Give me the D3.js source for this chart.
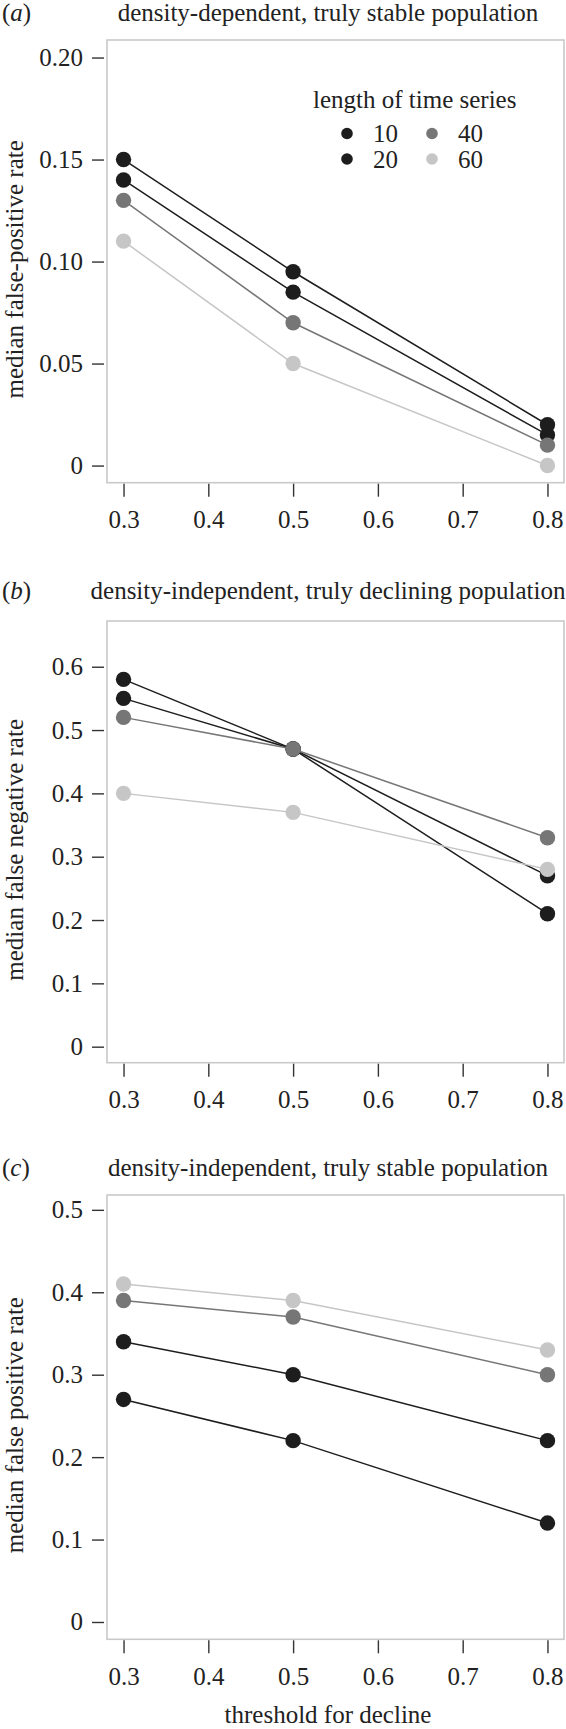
<!DOCTYPE html>
<html>
<head>
<meta charset="utf-8">
<script src="https://cdn.jsdelivr.net/npm/d3@7"></script>
<style>
  html, body { margin: 0; padding: 0; background: #fff; }
  svg { display: block; }
  text { font-family: "Liberation Serif", "Times New Roman", serif; fill: #222; }
</style>
</head>
<body>
<svg id="chart" width="566" height="1729"></svg>
<script>
// ---------- data ----------
const thresholds = [0.3, 0.5, 0.8];
const xTicks = [0.3, 0.4, 0.5, 0.6, 0.7, 0.8];
const seriesNames = ["10", "20", "40", "60"];
const seriesColors = ["#1d1d1d", "#1d1d1d", "#767676", "#c6c6c6"];

// panel (a): density-dependent, truly stable population
const a_len10 = [0.15, 0.095, 0.02];
const a_len20 = [0.14, 0.085, 0.015];
const a_len40 = [0.13, 0.07, 0.01];
const a_len60 = [0.11, 0.05, 0.0];
const a_yTicks = [0, 0.05, 0.10, 0.15, 0.20];

// panel (b): density-independent, truly declining population
const b_len10 = [0.58, 0.47, 0.21];
const b_len20 = [0.55, 0.47, 0.27];
const b_len40 = [0.52, 0.47, 0.33];
const b_len60 = [0.40, 0.37, 0.28];
const b_yTicks = [0, 0.1, 0.2, 0.3, 0.4, 0.5, 0.6];

// panel (c): density-independent, truly stable population
const c_len10 = [0.27, 0.22, 0.12];
const c_len20 = [0.34, 0.30, 0.22];
const c_len40 = [0.39, 0.37, 0.30];
const c_len60 = [0.41, 0.39, 0.33];
const c_yTicks = [0, 0.1, 0.2, 0.3, 0.4, 0.5];

const panelLetters = ["a", "b", "c"];
const panelTitles = [
  "density-dependent, truly stable population",
  "density-independent, truly declining population",
  "density-independent, truly stable population"
];
const yTitles = ["median false-positive rate", "median false negative rate", "median false positive rate"];
const xTitle = "threshold for decline";
const legendTitle = "length of time series";

// ---------- layout ----------
const FS = 25;
const left = 107, right = 564;
const layouts = [
  { top: 40,  bottom: 482.7,  ydom: [-0.0084, 0.2086], titleY: 21,   series: [a_len10, a_len20, a_len40, a_len60], ticks: a_yTicks, fmt: d3.format(".2f") },
  { top: 621, bottom: 1062.7, ydom: [-0.0253, 0.6722], titleY: 599,  series: [b_len10, b_len20, b_len40, b_len60], ticks: b_yTicks, fmt: d3.format(".1f") },
  { top: 1195, bottom: 1639.3, ydom: [-0.0210, 0.5180], titleY: 1176, series: [c_len10, c_len20, c_len40, c_len60], ticks: c_yTicks, fmt: d3.format(".1f") }
];

const svg = d3.select("#chart");
const x = d3.scaleLinear().domain([0.2805, 0.8195]).range([left, right]);

layouts.forEach((L, i) => {
  const g = svg.append("g");
  const y = d3.scaleLinear().domain(L.ydom).range([L.bottom, L.top]);

  // panel letter
  const lab = g.append("text").attr("x", 2).attr("y", L.titleY).attr("font-size", FS);
  lab.append("tspan").text("(");
  lab.append("tspan").attr("font-style", "italic").text(panelLetters[i]);
  lab.append("tspan").text(")");

  // title
  g.append("text").attr("x", 328).attr("y", L.titleY).attr("text-anchor", "middle")
    .attr("font-size", FS).text(panelTitles[i]);

  // frame
  g.append("rect").attr("x", left).attr("y", L.top)
    .attr("width", right - left).attr("height", L.bottom - L.top)
    .attr("fill", "none").attr("stroke", "#c9c9c9").attr("stroke-width", 1.6);

  // y axis
  const yAxis = d3.axisLeft(y).tickValues(L.ticks).tickSize(12).tickPadding(9)
    .tickFormat(v => v === 0 ? "0" : L.fmt(v));
  const ya = g.append("g").attr("transform", `translate(${left - 3},0)`).call(yAxis);
  ya.select(".domain").remove();
  ya.selectAll(".tick line").attr("stroke", "#333").attr("stroke-width", 1.4);
  ya.selectAll(".tick text").attr("font-size", FS).attr("font-family", "Liberation Serif, serif").attr("fill", "#222");

  // x axis
  const xAxis = d3.axisBottom(x).tickValues(xTicks).tickSize(13).tickPadding(14)
    .tickFormat(d3.format(".1f"));
  const xa = g.append("g").attr("transform", `translate(0,${L.bottom + 1})`).call(xAxis);
  xa.select(".domain").remove();
  xa.selectAll(".tick line").attr("stroke", "#333").attr("stroke-width", 1.4);
  xa.selectAll(".tick text").attr("font-size", FS).attr("font-family", "Liberation Serif, serif").attr("fill", "#222");

  // y title
  const cy = (L.top + L.bottom) / 2 + 8;
  g.append("text").attr("transform", `translate(23,${cy}) rotate(-90)`)
    .attr("text-anchor", "middle").attr("font-size", FS).text(yTitles[i]);

  // series
  const line = d3.line().x((d, k) => x(thresholds[k])).y(d => y(d));
  L.series.forEach((vals, s) => {
    g.append("path").datum(vals).attr("d", line)
      .attr("fill", "none").attr("stroke", seriesColors[s]).attr("stroke-width", 1.5);
    g.selectAll(null).data(vals).enter().append("circle")
      .attr("cx", (d, k) => x(thresholds[k])).attr("cy", d => y(d))
      .attr("r", 7.7).attr("fill", seriesColors[s]);
  });
});

// x title
svg.append("text").attr("x", 328).attr("y", 1723).attr("text-anchor", "middle")
  .attr("font-size", FS).text(xTitle);

// legend (panel a)
const lg = svg.append("g");
lg.append("text").attr("x", 313).attr("y", 108).attr("font-size", FS).text(legendTitle);
const legendCols = [347, 432];
const legendRows = [133.5, 159];
seriesNames.forEach((nm, s) => {
  const cx = legendCols[Math.floor(s / 2)], cy = legendRows[s % 2];
  lg.append("circle").attr("cx", cx).attr("cy", cy).attr("r", 5.8).attr("fill", seriesColors[s]);
  lg.append("text").attr("x", cx + 26).attr("y", cy + 8.5).attr("font-size", FS).text(nm);
});
</script>
</body>
</html>
